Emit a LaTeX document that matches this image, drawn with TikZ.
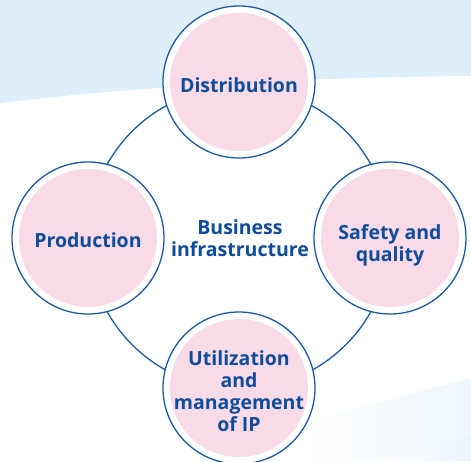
\documentclass[tikz,border=0pt]{standalone}
\usepackage{fontspec}
\setmainfont{Open Sans}
\definecolor{ringblue}{HTML}{1B5AAA}
\definecolor{textblue}{HTML}{0E4C9C}
\definecolor{pinkfill}{HTML}{F9DBE8}
\definecolor{skyblue}{HTML}{DEEFFA}
\definecolor{paleblue}{HTML}{EEF7FD}
\tikzset{
  ringline/.style={draw=ringblue, line width=1.3pt},
  ring/.style={circle, draw=ringblue, line width=1.3pt, fill=white,
    minimum size=152pt, inner sep=0pt,
    path picture={\fill[pinkfill] (path picture bounding box.center) circle (69pt);}},
  label text/.style={align=center, text=textblue, inner sep=0pt,
    font=\bfseries\fontsize{19.5}{22}\selectfont}
}
\begin{document}
\begin{tikzpicture}[x=1pt, y=-1pt]
\useasboundingbox (0,0) rectangle (471,461);
\clip (0,0) rectangle (471,461);
% background
\fill[skyblue] (0,0) -- (471,0) -- (471,76) .. controls (320,77) and (150,85) .. (0,103) -- cycle;
\shade[left color=white, right color=paleblue] (300,461) -- (300,423) -- (471,378) -- (471,461) -- cycle;
\shade[left color=white, right color=paleblue!70!skyblue] (370,461) -- (471,437) -- (471,461) -- cycle;
% big ring
\coordinate (c) at (239,238);
\draw[ringline] (c) circle (151pt);
% rings
\node[ring] (dist) at (239,82) {};
\node[ring] (prod) at (88,238) {};
\node[ring] (safe) at (390,238) {};
\node[ring] (util) at (239,388) {};
% texts
\node[label text] (distT) at ([yshift=-3pt]dist.center) {Distribution};
\node[label text] (prodT) at ([yshift=-2pt]prod.center) {Production};
\node[label text] (safeT) at ([yshift=-7pt]safe.center) {Safety and\\quality};
\node[label text] (utilT) at ([yshift=-3pt]util.center) {Utilization\\and\\management\\of IP};
\node[label text] (biz) at (240,238) {Business\\infrastructure};
\end{tikzpicture}
\end{document}
